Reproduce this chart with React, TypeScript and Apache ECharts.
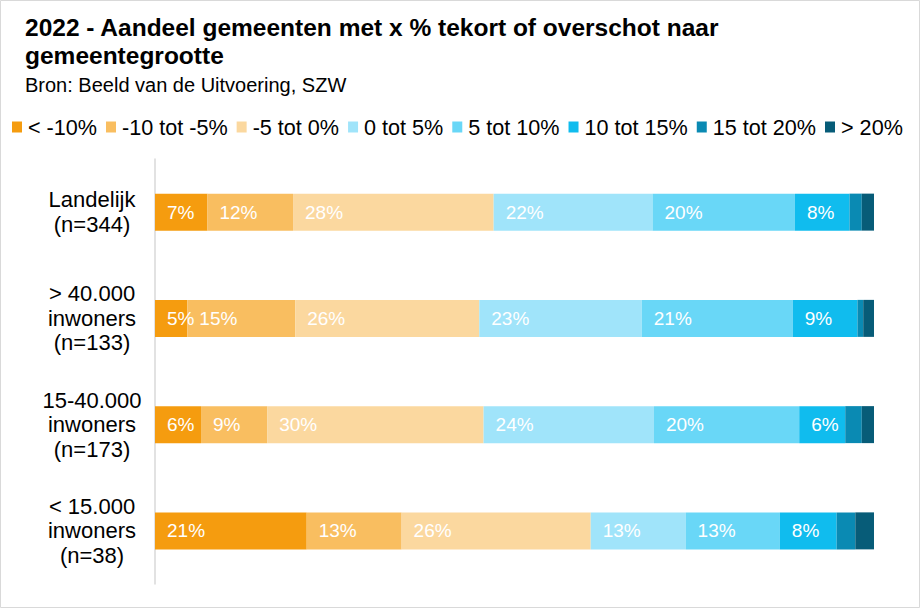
import React, { useEffect, useRef } from "react";
import * as echarts from "echarts";

// Gemeentegrootte (top to bottom)
const categories = [
  "Landelijk\n(n=344)",
  "> 40.000\ninwoners\n(n=133)",
  "15-40.000\ninwoners\n(n=173)",
  "< 15.000\ninwoners\n(n=38)",
];

// Klassen van tekort/overschot
const seriesNames = [
  "< -10%",
  "-10 tot -5%",
  "-5 tot 0%",
  "0 tot 5%",
  "5 tot 10%",
  "10 tot 15%",
  "15 tot 20%",
  "> 20%",
];

const seriesColors = [
  "#F59C0F",
  "#F9BE60",
  "#FBD89F",
  "#A0E4FA",
  "#69D7F7",
  "#10BCEE",
  "#0A8AB3",
  "#075C78",
];

// Aandeel gemeenten (%) per klasse, one array per class, in category order
const lessThanMin10 = [7.3, 4.5, 6.4, 21.1];
const min10ToMin5 = [11.9, 15.0, 9.2, 13.2];
const min5To0 = [27.9, 25.6, 30.1, 26.3];
const zeroTo5 = [22.1, 22.6, 23.7, 13.2];
const fiveTo10 = [19.8, 21.0, 20.2, 13.1];
const tenTo15 = [7.6, 9.0, 6.4, 7.9];
const fifteenTo20 = [1.7, 0.8, 2.3, 2.6];
const moreThan20 = [1.7, 1.5, 1.7, 2.6];

const seriesValues = [
  lessThanMin10,
  min10ToMin5,
  min5To0,
  zeroTo5,
  fiveTo10,
  tenTo15,
  fifteenTo20,
  moreThan20,
];

const FONT = "'Liberation Sans', Arial, sans-serif";

export default function App() {
  const ref = useRef<HTMLDivElement>(null);

  useEffect(() => {
    document.body.style.margin = "0";
    if (!ref.current) return;
    const chart = echarts.init(ref.current, undefined, { renderer: "svg" });

    const series = seriesNames.map((name, i) => ({
      name,
      type: "bar",
      stack: "total",
      barWidth: 37,
      data: seriesValues[i],
      itemStyle: { color: seriesColors[i] },
      label: {
        show: true,
        position: "insideLeft",
        distance: 12,
        color: "#ffffff",
        fontFamily: FONT,
        fontSize: 19,
        formatter: (p: any) => (p.value >= 3 ? Math.round(p.value) + "%" : ""),
      },
    }));

    chart.setOption({
      animation: false,
      backgroundColor: "#ffffff",
      textStyle: { fontFamily: FONT },
      title: {
        text: "2022 - Aandeel gemeenten met x % tekort of overschot naar\ngemeentegrootte",
        subtext: "Bron: Beeld van de Uitvoering, SZW",
        left: 20,
        top: 9,
        itemGap: 4,
        textStyle: {
          fontFamily: FONT,
          fontSize: 24.5,
          fontWeight: "bold",
          color: "#000000",
          lineHeight: 27.5,
        },
        subtextStyle: {
          fontFamily: FONT,
          fontSize: 20,
          color: "#000000",
          lineHeight: 24,
        },
      },
      legend: {
        left: 12,
        top: 116,
        padding: 0,
        itemWidth: 10,
        itemHeight: 11,
        itemGap: 9,
        icon: "rect",
        selectedMode: false,
        textStyle: { fontFamily: FONT, fontSize: 21.6, color: "#000000", padding: [0, 0, 0, 1] },
        data: seriesNames,
      },
      grid: { left: 155, right: 46, top: 159, bottom: 24, containLabel: false },
      xAxis: {
        type: "value",
        min: 0,
        max: 100,
        show: false,
      },
      yAxis: {
        type: "category",
        inverse: true,
        data: categories,
        axisLine: { show: true, lineStyle: { color: "#d9d9d9", width: 1.5 } },
        axisTick: { show: false },
        axisLabel: {
          align: "center",
          margin: 63,
          color: "#000000",
          fontFamily: FONT,
          fontSize: 22,
          lineHeight: 24.5,
        },
      },
      graphic: [
        {
          type: "rect",
          shape: { x: 0.5, y: 0.5, width: 919, height: 607 },
          style: { fill: "none", stroke: "#d9d9d9", lineWidth: 1 },
          silent: true,
        },
      ],
      series,
    });

    return () => chart.dispose();
  }, []);

  return <div ref={ref} style={{ width: 920, height: 608 }} />;
}
